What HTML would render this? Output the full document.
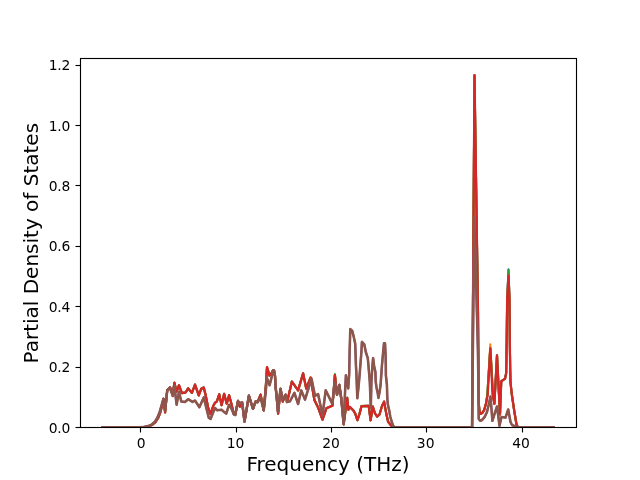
<!DOCTYPE html>
<html lang="en"><head><meta charset="utf-8"><title>Partial Density of States</title>
<style>html,body{margin:0;padding:0;background:#fff;overflow:hidden}svg{display:block}</style>
</head><body>
<svg width="640" height="480" viewBox="0 0 640 480">
<rect width="640" height="480" fill="#fff"/>
<defs><clipPath id="ax"><rect x="80" y="57.6" width="496" height="369.6"/></clipPath></defs>
<g clip-path="url(#ax)" fill="none" stroke-width="2.083" stroke-linejoin="round" stroke-linecap="square">
<polyline points="102.55,427.20 138.60,427.15 144.60,426.95 148.60,426.30 152.10,424.90 155.60,422.00 158.10,418.00 160.10,413.00 162.00,406.00 163.60,398.75 165.10,412.35 167.25,390.20 170.00,387.25 172.75,394.15 174.40,382.75 176.60,391.65 179.00,385.25 181.90,393.10 185.60,392.50 188.10,388.35 191.90,392.90 195.00,384.60 198.75,395.40 201.25,388.75 203.75,387.50 205.60,395.00 208.10,407.50 210.60,414.15 213.10,406.25 215.00,402.80 216.90,401.40 219.20,394.25 221.60,405.20 224.10,393.85 226.70,403.60 229.10,395.25 231.40,403.75 233.75,414.10 235.20,415.00 238.00,400.85 239.80,406.65 242.20,403.15 244.50,421.65 248.90,395.65 253.00,408.95 255.60,401.45 257.50,402.25 260.60,394.60 263.75,410.40 265.90,385.00 267.00,367.20 269.50,375.60 271.70,373.00 273.00,370.30 274.00,370.30 275.00,376.00 275.60,387.00 276.40,394.00 278.10,413.55 280.50,388.80 282.75,401.65 285.60,394.60 287.50,400.40 291.90,381.60 298.10,390.40 303.10,373.35 306.25,388.55 310.60,377.75 314.40,400.00 318.10,407.50 322.50,419.65 326.40,408.30 332.50,405.60 334.90,375.15 337.00,394.75 339.30,384.85 341.20,398.00 343.70,424.35 346.30,404.00 347.20,397.85 348.40,409.65 349.90,406.95 353.40,410.50 355.25,413.60 357.40,420.25 359.60,413.60 361.50,406.10 368.75,405.90 370.60,420.25 372.80,406.65 375.00,413.50 377.20,416.55 379.50,414.50 382.00,406.00 384.10,401.65 386.25,413.60 388.10,421.75 390.60,424.90 391.90,426.20 394.00,427.20 471.20,427.20 472.10,426.80 474.50,75.20 478.00,312.00 478.30,350.00 478.55,380.00 478.90,405.00 479.60,412.00 481.00,413.80 482.50,412.60 484.20,410.00 486.00,403.50 487.30,395.00 490.30,348.30 493.00,395.00 494.40,403.75 497.00,355.30 499.00,395.00 500.00,414.50 501.25,381.25 505.00,378.75 506.20,373.00 506.70,340.00 507.15,300.00 508.50,269.40 509.50,300.00 509.80,340.00 510.20,370.00 510.50,382.50 511.90,395.00 514.30,411.25 516.60,425.00 518.00,427.00 520.00,427.20 553.50,427.20" stroke="#1f77b4"/>
<polyline points="102.55,427.20 138.60,427.15 144.60,426.95 148.60,426.30 152.10,424.90 155.60,422.00 158.10,418.00 160.10,413.00 162.00,406.00 163.60,398.75 165.10,412.35 167.25,390.20 170.00,387.25 172.75,394.15 174.40,382.75 176.60,391.65 179.00,385.25 181.90,393.10 185.60,392.50 188.10,388.35 191.90,392.90 195.00,384.60 198.75,395.40 201.25,388.75 203.75,387.50 205.60,395.00 208.10,407.50 210.60,414.15 213.10,406.25 215.00,402.80 216.90,401.40 219.20,394.25 221.60,405.20 224.10,393.85 226.70,403.60 229.10,395.25 231.40,403.75 233.75,414.10 235.20,415.00 238.00,400.85 239.80,406.65 242.20,403.15 244.50,421.65 248.90,395.65 253.00,408.95 255.60,401.45 257.50,402.25 260.60,394.60 263.75,410.40 265.90,385.00 267.00,367.20 269.50,375.60 271.70,373.00 273.00,370.30 274.00,370.30 275.00,376.00 275.60,387.00 276.40,394.00 278.10,413.55 280.50,388.80 282.75,401.65 285.60,394.60 287.50,400.40 291.90,381.60 298.10,390.40 303.10,373.35 306.25,388.55 310.60,376.95 314.40,400.00 318.10,407.50 322.50,419.65 326.40,408.30 332.50,405.60 334.90,375.15 337.00,394.75 339.30,384.85 341.20,398.00 343.70,424.35 346.30,404.00 347.20,397.85 348.40,409.65 349.90,406.95 353.40,410.50 355.25,413.60 357.40,420.25 359.60,413.60 361.50,406.10 368.75,405.90 370.60,420.25 372.80,406.65 375.00,413.50 377.20,416.55 379.50,414.50 382.00,406.00 384.10,401.65 386.25,413.60 388.10,421.75 390.60,424.90 391.90,426.20 394.00,427.20 471.20,427.20 472.10,426.80 474.50,75.20 478.00,312.00 478.30,350.00 478.55,380.00 478.90,405.00 479.60,412.00 481.00,413.80 482.50,412.60 484.20,410.00 486.00,403.50 487.30,395.00 490.30,344.20 493.00,395.00 494.40,403.75 497.00,355.30 499.00,395.00 500.00,414.50 501.25,381.25 505.00,378.75 506.20,373.00 506.70,340.00 507.15,300.00 508.50,275.60 509.50,300.00 509.80,340.00 510.20,370.00 510.50,382.50 511.90,395.00 514.30,411.25 516.60,425.00 518.00,427.00 520.00,427.20 553.50,427.20" stroke="#ff7f0e"/>
<polyline points="102.55,427.20 138.60,427.15 144.60,426.95 148.60,426.30 152.10,424.90 155.60,422.00 158.10,418.00 160.10,413.00 162.00,406.00 163.60,398.75 165.10,412.35 167.25,390.20 170.00,387.25 172.75,394.15 174.40,382.75 176.60,391.65 179.00,385.25 181.90,393.10 185.60,392.50 188.10,388.35 191.90,392.90 195.00,384.60 198.75,395.40 201.25,388.75 203.75,387.50 205.60,395.00 208.10,407.50 210.60,414.15 213.10,406.25 215.00,402.80 216.90,401.40 219.20,394.25 221.60,405.20 224.10,393.85 226.70,403.60 229.10,395.25 231.40,403.75 233.75,414.10 235.20,415.00 238.00,400.85 239.80,406.65 242.20,403.15 244.50,421.65 248.90,395.65 253.00,408.95 255.60,401.45 257.50,402.25 260.60,394.60 263.75,410.40 265.90,385.00 267.00,367.20 269.50,375.60 271.70,373.00 273.00,370.30 274.00,370.30 275.00,376.00 275.60,387.00 276.40,394.00 278.10,413.55 280.50,388.80 282.75,401.65 285.60,394.60 287.50,400.40 291.90,381.60 298.10,390.40 303.10,373.35 306.25,388.55 310.60,377.75 314.40,400.00 318.10,407.50 322.50,419.65 326.40,408.30 332.50,405.60 334.90,374.05 337.00,394.75 339.30,384.85 341.20,398.00 343.70,424.35 346.30,404.00 347.20,397.85 348.40,409.65 349.90,406.95 353.40,410.50 355.25,413.60 357.40,420.25 359.60,413.60 361.50,406.10 368.75,405.90 370.60,420.25 372.80,406.65 375.00,413.50 377.20,416.55 379.50,414.50 382.00,406.00 384.10,401.65 386.25,413.60 388.10,421.75 390.60,424.90 391.90,426.20 394.00,427.20 471.20,427.20 472.10,426.80 474.50,75.20 478.00,312.00 478.30,350.00 478.55,380.00 478.90,405.00 479.60,412.00 481.00,413.80 482.50,412.60 484.20,410.00 486.00,403.50 487.30,395.00 490.30,348.30 493.00,395.00 494.40,403.75 497.00,355.30 499.00,395.00 500.00,414.50 501.25,381.25 505.00,378.75 506.20,373.00 506.70,340.00 507.15,300.00 508.50,270.00 509.50,300.00 509.80,340.00 510.20,370.00 510.50,382.50 511.90,395.00 514.30,411.25 516.60,425.00 518.00,427.00 520.00,427.20 553.50,427.20" stroke="#2ca02c"/>
<polyline points="102.55,427.20 138.60,427.15 144.60,426.95 148.60,426.30 152.10,424.90 155.60,422.00 158.10,418.00 160.10,413.00 162.00,406.00 163.60,398.75 165.10,412.35 167.25,390.20 170.00,387.25 172.75,394.15 174.40,382.75 176.60,391.65 179.00,385.25 181.90,393.10 185.60,392.50 188.10,388.35 191.90,392.90 195.00,384.60 198.75,395.40 201.25,388.75 203.75,387.50 205.60,395.00 208.10,407.50 210.60,414.15 213.10,406.25 215.00,402.80 216.90,401.40 219.20,394.25 221.60,405.20 224.10,393.85 226.70,403.60 229.10,395.25 231.40,403.75 233.75,414.10 235.20,415.00 238.00,400.85 239.80,406.65 242.20,403.15 244.50,421.65 248.90,395.65 253.00,408.95 255.60,401.45 257.50,402.25 260.60,394.60 263.75,410.40 265.90,385.00 267.00,367.20 269.50,375.60 271.70,373.00 273.00,370.30 274.00,370.30 275.00,376.00 275.60,387.00 276.40,394.00 278.10,413.55 280.50,388.80 282.75,401.65 285.60,394.60 287.50,400.40 291.90,381.60 298.10,390.40 303.10,373.35 306.25,388.55 310.60,377.75 314.40,400.00 318.10,407.50 322.50,419.65 326.40,408.30 332.50,405.60 334.90,375.15 337.00,394.75 339.30,384.85 341.20,398.00 343.70,424.35 346.30,404.00 347.20,397.85 348.40,409.65 349.90,406.95 353.40,410.50 355.25,413.60 357.40,420.25 359.60,413.60 361.50,406.10 368.75,405.90 370.60,420.25 372.80,406.65 375.00,413.50 377.20,416.55 379.50,414.50 382.00,406.00 384.10,401.65 386.25,413.60 388.10,421.75 390.60,424.90 391.90,426.20 394.00,427.20 471.20,427.20 472.10,426.80 474.50,75.20 478.00,312.00 478.30,350.00 478.55,380.00 478.90,405.00 479.60,412.00 481.00,413.80 482.50,412.60 484.20,410.00 486.00,403.50 487.70,395.00 490.30,348.30 492.60,395.00 494.40,403.75 497.00,355.30 499.00,395.00 500.00,414.50 501.25,381.25 505.00,378.75 506.20,373.00 506.70,340.00 507.15,300.00 508.50,275.60 509.50,300.00 509.80,340.00 510.20,370.00 510.50,382.50 511.90,395.00 514.30,411.25 516.60,425.00 518.00,427.00 520.00,427.20 553.50,427.20" stroke="#d62728" stroke-width="2.3"/>
<polyline points="102.55,427.20 138.00,427.15 144.00,426.90 148.00,426.10 151.50,424.60 155.00,421.60 157.50,417.50 159.50,412.50 161.50,405.50 163.40,398.90 165.00,410.40 167.25,390.20 170.00,388.00 172.75,396.00 174.40,385.90 176.60,404.70 179.00,391.70 181.25,401.40 185.00,402.00 188.10,399.20 192.50,401.90 195.00,400.50 199.40,407.20 203.75,397.40 206.25,407.60 208.75,417.60 210.60,418.90 213.10,412.60 215.00,408.00 217.30,410.30 221.60,409.80 224.40,412.20 226.25,413.60 229.10,404.75 231.40,408.40 233.75,414.10 235.20,415.00 238.00,401.00 239.60,403.30 242.20,402.30 244.50,421.50 248.90,395.80 253.00,408.80 255.60,401.60 257.50,402.10 260.60,397.90 263.75,410.25 266.00,388.75 266.80,377.60 269.60,385.20 271.70,377.00 273.00,370.60 274.00,370.60 275.00,376.00 275.60,387.00 276.40,394.00 278.00,411.50 280.50,388.80 282.75,399.60 285.60,394.75 286.90,402.10 290.00,401.25 294.40,392.90 298.10,404.00 301.25,390.40 305.00,399.60 311.50,378.60 315.00,395.90 318.10,394.10 322.50,415.40 325.70,390.20 332.20,403.60 334.90,382.20 337.00,394.60 339.30,385.00 341.20,398.00 343.60,423.50 345.30,387.00 345.90,375.30 348.20,388.40 349.20,374.00 349.60,352.00 350.30,329.10 352.30,331.00 353.90,337.50 355.20,343.75 355.60,355.00 355.90,364.50 356.40,374.00 356.70,382.00 357.30,398.30 358.60,386.00 359.70,374.00 360.40,364.50 361.40,352.00 361.90,341.50 364.30,344.50 365.80,352.00 367.80,358.25 368.50,366.00 369.80,382.00 370.80,407.60 371.40,382.00 372.40,366.00 373.10,357.70 374.10,366.00 375.40,372.00 375.70,381.60 376.60,388.00 377.80,393.50 378.40,397.90 379.60,392.00 380.60,384.75 381.25,375.40 381.90,366.00 382.90,354.75 384.00,343.20 385.00,343.20 385.60,354.75 385.80,366.00 385.90,375.40 386.90,384.75 387.30,398.00 387.80,404.25 389.20,410.50 390.30,416.75 392.10,423.00 393.30,426.10 395.00,427.20 471.20,427.20 472.05,426.80 474.30,218.00 476.90,312.00 477.90,350.00 478.35,380.00 478.60,407.50 478.75,419.00 480.30,420.80 482.00,420.00 484.50,417.20 487.00,412.00 489.00,403.50 490.50,396.50 491.40,408.00 492.40,420.80 494.50,414.00 497.00,406.50 498.30,416.00 499.50,425.80 501.50,417.00 505.50,417.60 508.20,409.50 510.50,422.00 512.00,425.00 515.00,426.30 518.00,427.00 520.00,427.20 553.50,427.20" stroke="#9467bd"/>
<polyline points="102.55,427.20 138.00,427.15 144.00,426.90 148.00,426.10 151.50,424.60 155.00,421.60 157.50,417.50 159.50,412.50 161.50,405.50 163.40,398.90 165.00,410.40 167.25,390.20 170.00,388.00 172.75,396.00 174.40,385.90 176.60,404.70 179.00,391.70 181.25,401.40 185.00,402.00 188.10,399.20 192.50,401.90 195.00,400.50 199.40,407.20 203.75,397.40 206.25,407.60 208.75,417.60 210.60,418.90 213.10,412.60 215.00,408.00 217.30,410.30 221.60,409.80 224.40,412.20 226.25,413.60 229.10,404.75 231.40,408.40 233.75,414.10 235.20,415.00 238.00,401.00 239.60,403.30 242.20,402.30 244.50,421.50 248.90,395.80 253.00,408.80 255.60,401.60 257.50,402.10 260.60,397.90 263.75,410.25 266.00,388.75 266.80,377.60 269.60,385.20 271.70,377.00 273.00,370.60 274.00,370.60 275.00,376.00 275.60,387.00 276.40,394.00 278.00,411.50 280.50,388.80 282.75,399.60 285.60,394.75 286.90,402.10 290.00,401.25 294.40,392.90 298.10,404.00 301.25,390.40 305.00,399.60 311.50,378.60 315.00,395.90 318.10,394.10 322.50,415.40 325.70,390.20 332.20,403.60 334.90,382.20 337.00,394.60 339.30,385.00 341.20,398.00 343.60,423.50 345.30,387.00 345.90,375.30 348.20,388.40 349.20,374.00 349.60,352.00 350.30,329.10 352.30,331.00 353.90,337.50 355.20,343.75 355.60,355.00 355.90,364.50 356.40,374.00 356.70,382.00 357.30,398.30 358.60,386.00 359.70,374.00 360.40,364.50 361.40,352.00 361.90,342.25 364.30,344.50 365.80,352.00 367.80,358.25 368.50,366.00 369.80,382.00 370.80,407.60 371.40,382.00 372.40,366.00 373.10,358.30 374.10,366.00 375.40,372.00 375.70,381.60 376.60,388.00 377.80,393.50 378.40,397.90 379.60,392.00 380.60,384.75 381.25,375.40 381.90,366.00 382.90,354.75 384.00,343.20 385.00,343.20 385.60,354.75 385.80,366.00 385.90,375.40 386.90,384.75 387.30,398.00 387.80,404.25 389.20,410.50 390.30,416.75 392.10,423.00 393.30,426.10 395.00,427.20 471.20,427.20 472.05,426.80 474.30,218.00 476.90,312.00 477.90,350.00 478.35,380.00 478.60,407.50 478.75,419.00 480.30,420.80 482.00,420.00 484.50,417.20 487.00,412.00 489.00,403.50 490.50,396.50 491.40,408.00 492.40,420.80 494.50,414.00 497.00,406.50 498.30,416.00 499.50,425.80 501.50,417.00 505.50,417.60 508.20,409.50 510.50,422.00 512.00,425.00 515.00,426.30 518.00,427.00 520.00,427.20 553.50,427.20" stroke="#8c564b" stroke-width="2.55"/>
</g>
<g stroke="#000" stroke-width="1.111" fill="none">
<line x1="140.50" y1="427.5" x2="140.50" y2="432.5"/>
<line x1="236.50" y1="427.5" x2="236.50" y2="432.5"/>
<line x1="331.50" y1="427.5" x2="331.50" y2="432.5"/>
<line x1="426.50" y1="427.5" x2="426.50" y2="432.5"/>
<line x1="522.50" y1="427.5" x2="522.50" y2="432.5"/>
<line x1="80.5" y1="427.50" x2="75.5" y2="427.50"/>
<line x1="80.5" y1="367.50" x2="75.5" y2="367.50"/>
<line x1="80.5" y1="306.50" x2="75.5" y2="306.50"/>
<line x1="80.5" y1="246.50" x2="75.5" y2="246.50"/>
<line x1="80.5" y1="185.50" x2="75.5" y2="185.50"/>
<line x1="80.5" y1="125.50" x2="75.5" y2="125.50"/>
<line x1="80.5" y1="65.50" x2="75.5" y2="65.50"/>
<rect x="80.5" y="58.5" width="496" height="369" stroke-linejoin="miter"/>
</g>
<g font-family="'DejaVu Sans', 'Liberation Sans', sans-serif" fill="#000">
<g font-size="13.889px" text-anchor="middle">
<text x="141.10" y="447.5">0</text>
<text x="235.60" y="447.5">10</text>
<text x="331.00" y="447.5">20</text>
<text x="425.70" y="447.5">30</text>
<text x="521.00" y="447.5">40</text>
</g>
<g font-size="13.889px" text-anchor="end" letter-spacing="-0.3">
<text x="70.0" y="433">0.0</text>
<text x="70.0" y="372">0.2</text>
<text x="70.0" y="312">0.4</text>
<text x="70.0" y="251">0.6</text>
<text x="70.0" y="191">0.8</text>
<text x="70.0" y="131">1.0</text>
<text x="70.0" y="70">1.2</text>
</g>
<text x="328" y="471.2" font-size="20px" text-anchor="middle">Frequency (THz)</text>
<text transform="translate(38.3,243.2) rotate(-90)" font-size="20px" text-anchor="middle">Partial Density of States</text>
</g>
</svg>
</body></html>
